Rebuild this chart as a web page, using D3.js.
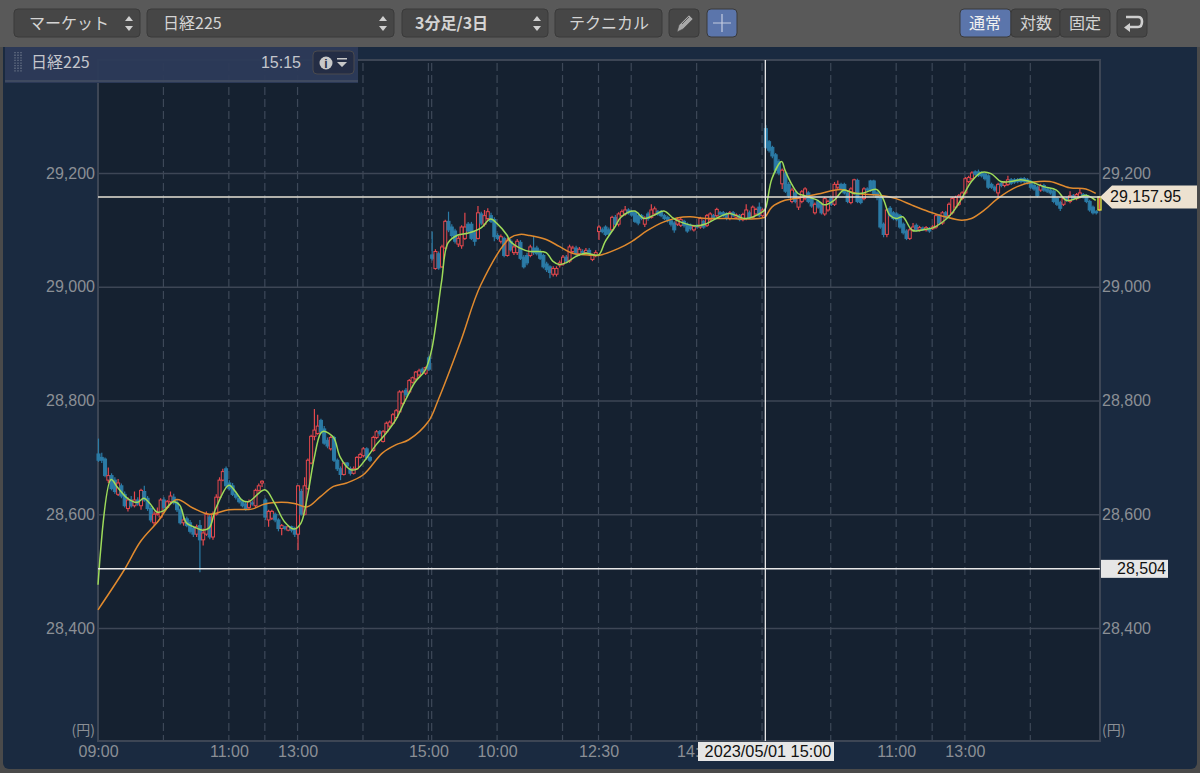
<!DOCTYPE html>
<html>
<head>
<meta charset="utf-8">
<script src="https://d3js.org/d3.v7.min.js"></script>
<style>
html, body { margin: 0; padding: 0; background: #4a4a4a; overflow: hidden; }
text { font-family: "Liberation Sans", "Noto Sans CJK JP", sans-serif; }
</style>
</head>
<body>
<script>
var width = 1200, height = 773;

// three days of 3 minute bars
var opens = [
  28706,28700,28697,28660,28668,28660,28635,28650,28635,28610,
  28625,28615,28625,28615,28640,28628,28610,28585,28600,28595,
  28625,28612,28622,28630,28620,28608,28585,28592,28585,28575,
  28565,28580,28555,28565,28595,28560,28600,28630,28660,28680,
  28655,28650,28635,28628,28622,28618,28612,28620,28615,28642,
  28655,28625,28590,28593,28600,28590,28575,28578,28572,28578,
  28575,28565,28640,28600,28645,28690,28737,28742,28765,28750,
  28730,28715,28735,28695,28680,28670,28690,28680,28672,28680,
  28700,28703,28715,28700,28712,28735,28745,28728,28745,28755,
  28760,28770,28780,28795,28818,28815,28832,28838,28845,28855,28848,28875,
  29056,29032,29058,29035,29068,29115,29105,29098,29075,29072,
  29085,29110,29110,29095,29085,29128,29110,29120,29125,29118,
  29090,29080,29085,29055,29080,29060,29060,29078,29052,29055,
  29055,29068,29068,29062,29055,29040,29035,29022,29022,29038,
  29040,29052,29045,29062,29068,29058,29062,29060,29064,29048,
  29055,29097,29100,29105,29100,29100,29122,29110,29125,29128,
  29135,29132,29130,29125,29125,29110,29128,29122,29128,29132,
  29132,29125,29122,29116,29112,29110,29108,29115,29110,29108,
  29100,29108,29105,29115,29108,29118,29125,29125,29130,29130,
  29128,29120,29130,29122,29125,29118,29120,29130,29122,29128,29140,29125,
  29278,29255,29245,29232,29220,29181,29200,29180,29150,29165,
  29140,29150,29155,29165,29155,29130,29150,29145,29128,29135,
  29155,29145,29175,29180,29180,29165,29148,29165,29187,29155,
  29155,29172,29186,29186,29165,29157,29110,29092,29138,29130,
  29128,29125,29110,29098,29085,29100,29108,29100,29103,29100,
  29102,29102,29105,29125,29112,29130,29125,29130,29140,29145,
  29155,29165,29185,29190,29202,29202,29200,29198,29195,29180,
  29175,29165,29182,29178,29180,29188,29188,29188,29190,29190,
  29188,29185,29178,29175,29170,29178,29172,29170,29168,29155,
  29148,29145,29155,29150,29160,29155,29158,29162,29160,29150,29140,29132,29135
];
var closes = [
  28695,28695,28668,28668,28645,28640,28655,28632,28615,28625,
  28615,28625,28618,28642,28625,28610,28590,28600,28602,28625,
  28612,28622,28632,28620,28608,28585,28590,28580,28570,28565,
  28578,28555,28567,28600,28560,28600,28630,28660,28675,28650,
  28645,28635,28630,28622,28615,28610,28622,28618,28642,28650,
  28658,28595,28605,28605,28590,28575,28580,28575,28578,28572,
  28565,28650,28600,28650,28695,28737,28748,28755,28745,28725,
  28720,28735,28695,28680,28670,28690,28685,28672,28680,28700,
  28705,28715,28700,28695,28735,28745,28742,28745,28760,28762,
  28775,28782,28815,28815,28810,28835,28840,28850,28852,28850,28858,28855,
  29050,29062,29033,29070,29115,29100,29090,29080,29085,29105,
  29105,29098,29085,29080,29130,29112,29125,29132,29115,29088,
  29085,29088,29055,29082,29065,29070,29080,29050,29035,29042,
  29070,29060,29058,29050,29035,29030,29025,29032,29032,29042,
  29052,29045,29070,29068,29058,29066,29060,29064,29058,29056,
  29060,29105,29097,29092,29093,29122,29110,29128,29132,29135,
  29130,29126,29115,29112,29120,29120,29120,29135,29137,29128,
  29125,29120,29116,29110,29100,29118,29118,29108,29098,29102,
  29106,29105,29120,29105,29125,29128,29122,29136,29128,29125,
  29120,29130,29125,29126,29118,29127,29135,29122,29140,29136,29125,29135,
  29245,29240,29230,29205,29200,29205,29168,29160,29170,29150,
  29155,29167,29172,29150,29142,29145,29140,29130,29155,29150,
  29145,29180,29180,29172,29165,29150,29172,29188,29150,29148,
  29172,29170,29170,29162,29157,29105,29092,29135,29125,29120,
  29118,29105,29095,29085,29100,29105,29100,29104,29100,29104,
  29098,29105,29125,29112,29130,29122,29145,29155,29157,29160,
  29165,29190,29192,29200,29198,29196,29195,29190,29175,29175,
  29170,29180,29178,29183,29188,29182,29184,29185,29185,29185,
  29183,29175,29172,29160,29178,29170,29168,29165,29150,29145,
  29138,29155,29152,29160,29155,29162,29165,29158,29150,29135,29130,29130,29157.95
];
var highs = [
  28733,28708,28700,28682,28672,28665,28662,28654,28640,28630,
  28632,28640,28630,28645,28650,28632,28615,28605,28612,28628,
  28630,28625,28640,28636,28625,28612,28597,28596,28590,28580,
  28582,28590,28575,28605,28600,28605,28635,28665,28680,28684,
  28660,28655,28640,28632,28626,28622,28626,28624,28645,28654,
  28660,28628,28608,28608,28603,28593,28583,28580,28580,28580,
  28578,28651,28645,28665,28698,28740,28785,28775,28768,28755,
  28735,28738,28738,28698,28684,28692,28692,28684,28684,28702,
  28708,28718,28718,28703,28738,28748,28748,28748,28763,28765,
  28778,28785,28818,28818,28822,28838,28842,28852,28856,28858,28860,28878,
  29097,29066,29062,29074,29118,29132,29110,29102,29090,29108,
  29130,29114,29114,29098,29142,29132,29135,29138,29130,29122,
  29094,29092,29088,29086,29084,29074,29084,29082,29056,29060,
  29074,29088,29072,29066,29058,29044,29038,29036,29036,29046,
  29056,29056,29074,29072,29072,29070,29066,29068,29068,29058,
  29064,29108,29104,29108,29104,29125,29126,29131,29136,29142,
  29138,29135,29133,29128,29128,29124,29132,29145,29141,29135,
  29135,29128,29125,29119,29115,29122,29122,29118,29113,29111,
  29109,29110,29123,29118,29128,29131,29128,29139,29133,29133,
  29131,29133,29133,29129,29128,29130,29145,29134,29143,29139,29148,29138,
  29284,29258,29248,29235,29224,29208,29204,29184,29174,29169,
  29158,29170,29175,29168,29158,29148,29153,29148,29158,29153,
  29158,29184,29187,29183,29183,29168,29175,29190,29190,29158,
  29175,29175,29188,29188,29168,29160,29113,29138,29142,29133,
  29131,29128,29113,29101,29103,29112,29111,29107,29106,29107,
  29105,29108,29128,29128,29133,29133,29148,29158,29160,29163,
  29168,29193,29195,29203,29205,29206,29203,29201,29198,29183,
  29178,29183,29185,29186,29195,29191,29191,29191,29192,29193,
  29191,29188,29181,29178,29181,29181,29175,29173,29171,29158,
  29151,29158,29158,29168,29163,29165,29172,29165,29163,29153,29143,29135,29158
];
var lows = [
  28692,28690,28665,28655,28642,28636,28632,28628,28612,28605,
  28612,28612,28615,28608,28622,28606,28586,28580,28598,28592,
  28608,28610,28618,28617,28604,28582,28580,28577,28566,28560,
  28560,28498,28545,28562,28556,28555,28598,28628,28658,28646,
  28642,28632,28626,28619,28612,28606,28608,28615,28612,28640,
  28648,28590,28578,28590,28586,28570,28563,28572,28570,28568,
  28560,28537,28598,28598,28643,28688,28730,28740,28742,28722,
  28716,28712,28692,28676,28660,28668,28682,28668,28670,28678,
  28698,28700,28696,28692,28710,28732,28738,28726,28742,28752,
  28758,28768,28778,28792,28806,28812,28830,28836,28842,28846,28845,28852,
  29046,29030,29030,29033,29066,29096,29086,29076,29070,29067,
  29082,29095,29082,29072,29083,29108,29106,29116,29112,29080,
  29082,29076,29052,29053,29062,29056,29056,29047,29032,29038,
  29052,29056,29055,29047,29032,29026,29015,29018,29018,29034,
  29037,29042,29042,29058,29054,29054,29056,29057,29054,29045,
  29052,29082,29094,29089,29090,29097,29106,29106,29122,29125,
  29127,29123,29112,29108,29117,29105,29116,29120,29125,29125,
  29122,29117,29113,29106,29095,29107,29105,29104,29095,29099,
  29097,29102,29102,29102,29105,29115,29119,29122,29125,29122,
  29117,29117,29122,29119,29115,29115,29117,29119,29120,29125,29122,29122,
  29242,29236,29226,29200,29196,29172,29165,29156,29147,29147,
  29135,29147,29152,29147,29139,29127,29137,29127,29125,29132,
  29142,29142,29172,29169,29162,29147,29145,29162,29147,29145,
  29152,29167,29167,29159,29152,29102,29087,29087,29122,29117,
  29115,29102,29092,29082,29082,29097,29097,29097,29098,29097,
  29095,29100,29102,29109,29109,29119,29122,29127,29137,29142,
  29152,29162,29182,29187,29195,29193,29192,29187,29172,29172,
  29167,29155,29175,29175,29177,29179,29181,29182,29182,29182,
  29180,29172,29169,29157,29167,29167,29165,29162,29147,29142,
  29133,29142,29149,29147,29152,29152,29155,29155,29147,29132,29127,29127,29133
];

// moving averages, bar number then price
var shortBars = [0,4,6,9,12,14,16,18,20,23,25,27,30,32,34,36,40,42,44,46,51,54,57,60,62,64,66,68,69,72,74,77,79,82,85,88,91,94,97,100,102,105,107,110,113,117,120,122,125,126,129,132,134,137,139,141,143,146,149,153,155,158,160,164,167,170,173,176,178,183,186,190,193,198,203,204,206,209,210,212,214,216,220,222,225,228,231,234,238,240,242,244,246,249,253,255,258,261,264,267,270,273,276,279,282,285,289,293,296,299,302,305];
var shortVals = [28476,28661,28647,28628,28621,28628,28618,28604,28606,28622,28616,28585,28576,28572,28576,28610,28651,28640,28625,28622,28643,28619,28587,28574,28584,28631,28696,28742,28746,28735,28701,28679,28679,28698,28722,28742,28766,28801,28833,28853,28889,29008,29077,29091,29094,29103,29119,29111,29091,29080,29068,29062,29062,29060,29045,29039,29042,29053,29059,29056,29079,29105,29123,29133,29120,29126,29133,29120,29114,29107,29111,29123,29129,29120,29131,29137,29190,29220,29205,29181,29164,29160,29152,29144,29152,29170,29164,29165,29171,29155,29126,29120,29123,29099,29101,29103,29113,29129,29155,29185,29201,29199,29185,29185,29188,29185,29176,29170,29152,29155,29161,29152];
var longBars = [0,8,13,18,24,29,34,40,47,51,56,60,64,68,72,76,81,87,91,95,101,104,111,117,126,129,132,137,141,145,150,153,159,163,168,173,177,181,186,192,198,203,204,206,210,213,220,227,232,239,244,249,254,259,264,267,271,275,281,286,291,297,302,305];
var longVals = [28432,28502,28552,28585,28626,28611,28600,28608,28609,28618,28621,28619,28613,28631,28649,28655,28669,28708,28722,28731,28763,28801,28906,29003,29086,29092,29090,29083,29071,29059,29056,29055,29067,29079,29099,29114,29121,29123,29120,29120,29119,29121,29123,29140,29152,29155,29163,29171,29164,29161,29155,29143,29132,29123,29117,29120,29135,29155,29176,29184,29185,29174,29172,29164];

var priceTicks = [28400, 28600, 28800, 29000, 29200];
var gridBars = [20,40,51,61,81,101,102,122,142,153,163,183,203,224,244,255,265,285];
var timeBars = [0,40,61,101,122,153,183,244,265];
var timeLabels = ["09:00","11:00","13:00","15:00","10:00","12:30","14:00","11:00","13:00"];

var lastPrice = 29157.95, cursorPrice = 28504, cursorBar = 204;
var cursorDate = "2023/05/01 15:00";

var tools = [
  {x: 14, w: 126, label: "マーケット", tx: 29, arrow: true},
  {x: 147, w: 247, label: "日経225", tx: 163, arrow: true},
  {x: 402, w: 146, label: "3分足/3日", tx: 415, arrow: true, bold: true},
  {x: 555, w: 107, label: "テクニカル", tx: 569},
  {x: 669, w: 30, label: ""},
  {x: 707, w: 30, label: "", on: true},
  {x: 960, w: 51, label: "通常", tx: 969, on: true},
  {x: 1011, w: 49, label: "対数", tx: 1020},
  {x: 1060, w: 50, label: "固定", tx: 1069},
  {x: 1117, w: 30, label: ""}
];

var svg = d3.select("body").append("svg")
    .attr("width", width)
    .attr("height", height)
    .style("display", "block");

var x = d3.scaleLinear().domain([0, 306]).range([98, 1099]);
var y = d3.scaleLinear().domain([28400, 29200]).range([628, 173]);

// window background and toolbar
svg.append("rect").attr("x", 3).attr("y", 0).attr("width", 1194).attr("height", 769)
    .attr("rx", 6).attr("fill", "#1a2a40");
svg.append("rect").attr("width", width).attr("height", 47).attr("fill", "#595959");

var tool = svg.append("g").selectAll("g").data(tools).enter().append("g");
tool.append("rect")
    .attr("x", function(d) { return d.x; })
    .attr("y", 9)
    .attr("width", function(d) { return d.w; })
    .attr("height", 28)
    .attr("rx", 4)
    .attr("fill", function(d) { return d.on ? "#5b75ab" : "#464646"; })
    .attr("stroke", "#3a3a3a");
tool.append("text")
    .attr("x", function(d) { return d.tx; })
    .attr("y", 29)
    .attr("fill", function(d) { return d.on ? "#f0f0f0" : "#d4d4d4"; })
    .attr("font-size", 16)
    .attr("font-weight", function(d) { return d.bold ? "bold" : "normal"; })
    .style("font-family", "'Noto Sans CJK JP', sans-serif")
    .text(function(d) { return d.label; });
// up/down arrows on the drop downs
var drop = tool.filter(function(d) { return d.arrow; });
drop.append("path")
    .attr("d", function(d) { var a = d.x + d.w - 11; return "M" + (a - 4) + ",21L" + a + ",16L" + (a + 4) + ",21Z"; })
    .attr("fill", "#d0d0d0");
drop.append("path")
    .attr("d", function(d) { var a = d.x + d.w - 11; return "M" + (a - 4) + ",26L" + a + ",31L" + (a + 4) + ",26Z"; })
    .attr("fill", "#d0d0d0");
// pencil, cross, return icons
svg.append("path").attr("d", "M677,32L679,25L689,15L693,19L683,29Z").attr("fill", "#a8a8a8").attr("stroke", "#464646").attr("stroke-width", 0.6);
svg.append("path").attr("d", "M682,24L689,17").attr("stroke", "#464646").attr("stroke-width", 0.8);
svg.append("path").attr("d", "M722,14V32M713,23H731").attr("stroke", "#c4cbe0").attr("stroke-width", 1.2).attr("fill", "none");
svg.append("path").attr("d", "M1126,17H1138Q1142,17 1142,21.5Q1142,27 1138,27H1127").attr("stroke", "#cfcfcf").attr("stroke-width", 2.6).attr("fill", "none");
svg.append("path").attr("d", "M1130,23L1124,27.5L1130,32Z").attr("fill", "#cfcfcf");

// plot area
svg.append("rect").attr("x", 98).attr("y", 60).attr("width", 1002).attr("height", 681)
    .attr("fill", "#152130").attr("stroke", "#3d4655").attr("stroke-width", 2);

// dashed time lines
svg.append("g").selectAll("line").data(gridBars).enter().append("line")
    .attr("x1", function(d) { return x(d); })
    .attr("x2", function(d) { return x(d); })
    .attr("y1", 63).attr("y2", 740)
    .attr("stroke", "#3d4858")
    .attr("stroke-width", 1.2)
    .attr("stroke-dasharray", "8,4");

// price axes, the right one also draws the grid
var gridAxis = svg.append("g")
    .attr("transform", "translate(98,0)")
    .call(d3.axisRight(y).tickValues(priceTicks).tickSize(1002).tickPadding(2).tickFormat(d3.format(",")));
var leftAxis = svg.append("g")
    .attr("transform", "translate(98,0)")
    .call(d3.axisLeft(y).tickValues(priceTicks).tickSize(0).tickPadding(3).tickFormat(d3.format(",")));
var timeAxis = svg.append("g")
    .attr("transform", "translate(0,741)")
    .call(d3.axisBottom(x).tickValues(timeBars).tickSize(0).tickPadding(5)
        .tickFormat(function(d, i) { return timeLabels[i]; }));
[gridAxis, leftAxis, timeAxis].forEach(function(a) {
    a.select(".domain").remove();
    a.selectAll("line").attr("stroke", "#3d4655").attr("stroke-width", 1.4);
    a.selectAll("text").attr("fill", "#8b8f95").attr("font-size", 16)
        .style("font-family", "'Liberation Sans', sans-serif");
});

svg.append("text").attr("x", 95).attr("y", 735).attr("text-anchor", "end").attr("fill", "#8b8f95")
    .attr("font-size", 14).style("font-family", "'Noto Sans CJK JP', sans-serif").text("(円)");
svg.append("text").attr("x", 1102).attr("y", 735).attr("fill", "#8b8f95")
    .attr("font-size", 14).style("font-family", "'Noto Sans CJK JP', sans-serif").text("(円)");

// candles
var upColor = "#e5484d", downColor = "#2b7ba6";
var candle = svg.append("g").selectAll("g").data(opens).enter().append("g");
candle.append("line")
    .attr("x1", function(d, i) { return x(i) + 0.5; })
    .attr("x2", function(d, i) { return x(i) + 0.5; })
    .attr("y1", function(d, i) { return y(highs[i]); })
    .attr("y2", function(d, i) { return y(lows[i]); })
    .attr("stroke", function(d, i) { return closes[i] > d ? upColor : downColor; })
    .attr("stroke-width", 1.2);
candle.append("rect")
    .attr("x", function(d, i) { return x(i) - 1; })
    .attr("y", function(d, i) { return y(Math.max(d, closes[i])); })
    .attr("width", 3)
    .attr("height", function(d, i) { return Math.max(1, Math.abs(y(d) - y(closes[i]))); })
    .attr("fill", function(d, i) { return i == opens.length - 1 ? "none" : closes[i] > d ? "#152130" : downColor; })
    .attr("stroke", function(d, i) { return i == opens.length - 1 ? "#e9e83c" : closes[i] > d ? upColor : downColor; })
    .attr("stroke-width", function(d, i) { return i == opens.length - 1 ? 1.3 : 1; });

// moving averages
var maLine = d3.line()
    .x(function(d) { return x(d[0]); })
    .y(function(d) { return y(d[1]); })
    .curve(d3.curveCatmullRom.alpha(0.5));
svg.append("path").attr("d", maLine(d3.zip(longBars, longVals)))
    .attr("fill", "none").attr("stroke", "#e08a2e").attr("stroke-width", 1.5).attr("stroke-linejoin", "round");
svg.append("path").attr("d", maLine(d3.zip(shortBars, shortVals)))
    .attr("fill", "none").attr("stroke", "#9ddb5a").attr("stroke-width", 1.5).attr("stroke-linejoin", "round");

// last price and cross hair
svg.append("line").attr("x1", 98).attr("x2", 1100).attr("y1", y(lastPrice)).attr("y2", y(lastPrice))
    .attr("stroke", "#e6e2d4").attr("stroke-width", 1.5);
svg.append("line").attr("x1", 98).attr("x2", 1100).attr("y1", y(cursorPrice)).attr("y2", y(cursorPrice))
    .attr("stroke", "#e8e8e8").attr("stroke-width", 1.5);
svg.append("line").attr("x1", x(cursorBar)).attr("x2", x(cursorBar)).attr("y1", 60).attr("y2", 741)
    .attr("stroke", "#e8e8e8").attr("stroke-width", 1.3);

svg.append("path")
    .attr("d", "M1100," + y(lastPrice) + "L1112," + (y(lastPrice) - 11.5) + "H1197V" + (y(lastPrice) + 11.5) + "H1112Z")
    .attr("fill", "#ece1d0");
svg.append("text").attr("x", 1110).attr("y", y(lastPrice) + 5.5).attr("fill", "#111").attr("font-size", 16)
    .text(d3.format(",.2f")(lastPrice));
svg.append("rect").attr("x", 1101).attr("y", y(cursorPrice) - 9).attr("width", 67).attr("height", 18).attr("fill", "#e6e6e6");
svg.append("text").attr("x", 1117).attr("y", y(cursorPrice) + 5.5).attr("fill", "#111").attr("font-size", 16)
    .text(d3.format(",")(cursorPrice));
svg.append("rect").attr("x", 698).attr("y", 742).attr("width", 136).attr("height", 19).attr("fill", "#e6e6e6");
svg.append("text").attr("x", 768).attr("y", 757).attr("text-anchor", "middle").attr("fill", "#111").attr("font-size", 16.3)
    .text(cursorDate);

// symbol header over the plot
svg.append("rect").attr("x", 5).attr("y", 47).attr("width", 353).attr("height", 36).attr("fill", "#2d3a58").attr("opacity", 0.96);
svg.append("line").attr("x1", 5).attr("x2", 358).attr("y1", 81).attr("y2", 81).attr("stroke", "#3f4a60").attr("stroke-width", 2);
svg.append("path").attr("d", "M15,52V72M18,52V72M21,52V72").attr("stroke", "#6a7488").attr("stroke-width", 1.3).attr("stroke-dasharray", "1.3,1.3");
svg.append("text").attr("x", 31).attr("y", 68).attr("fill", "#c4c6cc").attr("font-size", 16)
    .style("font-family", "'Noto Sans CJK JP', sans-serif").text("日経225");
svg.append("text").attr("x", 301).attr("y", 68).attr("text-anchor", "end").attr("fill", "#c4c6cc").attr("font-size", 16).text("15:15");
svg.append("rect").attr("x", 313).attr("y", 51).attr("width", 41).attr("height", 23).attr("rx", 4)
    .attr("fill", "#242d45").attr("stroke", "#4a4a4e");
svg.append("circle").attr("cx", 326).attr("cy", 63).attr("r", 6.5).attr("fill", "#c8c8c8");
svg.append("text").attr("x", 326).attr("y", 67.5).attr("text-anchor", "middle").attr("fill", "#242d45")
    .attr("font-size", 12).attr("font-weight", "bold").text("i");
svg.append("path").attr("d", "M337,58H347V59.5H337ZM337,62H347L342,67Z").attr("fill", "#c8c8c8");
</script>
</body>
</html>
